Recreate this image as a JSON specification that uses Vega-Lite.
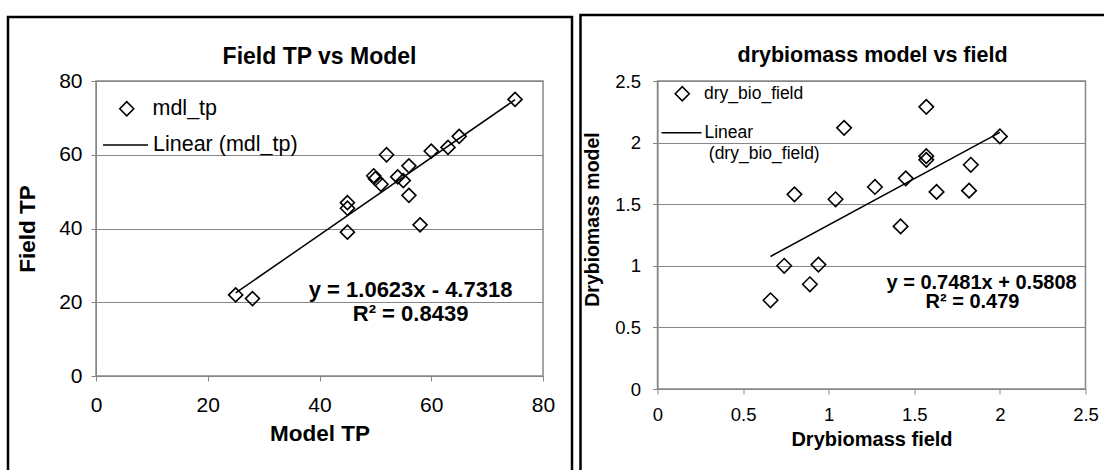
{
  "$schema": "https://vega.github.io/schema/vega-lite/v6.json",
  "padding": {"left": 5, "top": 13, "right": 0, "bottom": 0},
  "spacing": 3.5,
  "resolve": {
    "scale": {"shape": "independent", "stroke": "independent"},
    "legend": {"shape": "independent", "stroke": "independent"}
  },
  "config": {
    "font": "Liberation Sans",
    "view": {"stroke": "#868686", "strokeWidth": 1.5},
    "axis": {
      "domainColor": "#868686", "tickColor": "#868686", "gridColor": "#868686",
      "labelColor": "#000", "titleColor": "#000", "tickSize": 5, "labelFlush": false,
      "labelFont": "Liberation Sans", "titleFont": "Liberation Sans", "titleFontWeight": "bold"
    },
    "legend": {"padding": 0, "labelFont": "Liberation Sans", "labelColor": "#000", "labelLimit": 400}
  },
  "hconcat": [
    {
      "width": 447,
      "height": 295,
      "layer": [
        {
          "data": {"values": [{}]},
          "mark": {"type": "rect", "fillOpacity": 0, "stroke": "#000", "strokeWidth": 2.5},
          "encoding": {
            "x": {"datum": -15.75, "type": "quantitative", "scale": {"domain": [0, 80], "nice": false}},
            "x2": {"datum": 85.19},
            "y": {"datum": 97.36, "type": "quantitative", "scale": {"domain": [0, 80], "nice": false}},
            "y2": {"datum": -27.1}
          }
        },
        {
          "data": {"values": [{}]},
          "mark": {"type": "text", "text": "Field TP vs Model", "fontSize": 23, "fontWeight": "bold", "align": "center", "baseline": "middle"},
          "encoding": {"x": {"datum": 40, "type": "quantitative"}, "y": {"datum": 86.5, "type": "quantitative"}}
        },
        {
          "data": {"name": "tp", "values": [
            {"model": 75, "field": 75}, {"model": 65, "field": 65}, {"model": 63, "field": 62},
            {"model": 60, "field": 61}, {"model": 52, "field": 60}, {"model": 56, "field": 57},
            {"model": 49.7, "field": 54.3}, {"model": 50, "field": 53.5}, {"model": 51, "field": 52},
            {"model": 54, "field": 54}, {"model": 55, "field": 53}, {"model": 56, "field": 49},
            {"model": 45, "field": 47}, {"model": 45, "field": 45.5}, {"model": 45, "field": 39},
            {"model": 58, "field": 41}, {"model": 25, "field": 22}, {"model": 28, "field": 21}
          ]},
          "layer": [
            {
              "mark": {"type": "point", "filled": false, "stroke": "#000", "strokeWidth": 1.6, "size": 196, "opacity": 1},
              "encoding": {
                "x": {"field": "model", "type": "quantitative",
                  "axis": {"title": "Model TP", "values": [0, 20, 40, 60, 80], "grid": false,
                    "labelFontSize": 21, "labelPadding": 13, "titleFontSize": 22.5, "titlePadding": 7}},
                "y": {"field": "field", "type": "quantitative",
                  "axis": {"title": "Field TP", "values": [0, 10, 20, 30, 40, 50, 60, 70, 80], "grid": true,
                    "labelFontSize": 21, "labelPadding": 9, "titleFontSize": 22.5, "titlePadding": 19}},
                "shape": {"datum": "mdl_tp", "scale": {"range": ["diamond"]},
                  "legend": {"title": null, "orient": "none", "legendX": 20, "legendY": 17,
                    "symbolType": "diamond", "symbolSize": 196, "symbolStrokeWidth": 1.6,
                    "symbolStrokeColor": "#000", "symbolFillColor": "transparent",
                    "labelFontSize": 21.5, "labelOffset": 15}}
              }
            },
            {
              "transform": [{"regression": "field", "on": "model"}],
              "mark": {"type": "line", "strokeWidth": 1.5},
              "encoding": {
                "x": {"field": "model", "type": "quantitative"},
                "y": {"field": "field", "type": "quantitative"},
                "stroke": {"datum": "Linear (mdl_tp)", "scale": {"range": ["#000"]},
                  "legend": {"title": null, "orient": "none", "legendX": 6, "legendY": 40.5,
                    "symbolType": "stroke", "symbolSize": 2025, "symbolStrokeWidth": 1.5,
                    "labelFontSize": 21.5, "labelOffset": 4}}
              }
            }
          ]
        },
        {
          "data": {"values": [{}]},
          "mark": {"type": "text", "text": "y = 1.0623x - 4.7318", "fontSize": 22, "fontWeight": "bold", "align": "center", "baseline": "middle"},
          "encoding": {"x": {"datum": 56.3, "type": "quantitative"}, "y": {"datum": 23.24, "type": "quantitative"}}
        },
        {
          "data": {"values": [{}]},
          "mark": {"type": "text", "text": "R² = 0.8439", "fontSize": 22, "fontWeight": "bold", "align": "center", "baseline": "middle"},
          "encoding": {"x": {"datum": 56.3, "type": "quantitative"}, "y": {"datum": 16.73, "type": "quantitative"}}
        }
      ]
    },
    {
      "width": 428,
      "height": 308,
      "layer": [
        {
          "data": {"values": [{}]},
          "mark": {"type": "rect", "fillOpacity": 0, "stroke": "#000", "strokeWidth": 2.5},
          "encoding": {
            "x": {"datum": -0.4498, "type": "quantitative", "scale": {"domain": [0, 2.5], "nice": false}},
            "x2": {"datum": 2.6227},
            "y": {"datum": 3.0357, "type": "quantitative", "scale": {"domain": [0, 2.5], "nice": false}},
            "y2": {"datum": -0.706}
          }
        },
        {
          "data": {"values": [{}]},
          "mark": {"type": "text", "text": "drybiomass model vs field", "fontSize": 21.5, "fontWeight": "bold", "align": "center", "baseline": "middle"},
          "encoding": {"x": {"datum": 1.256, "type": "quantitative"}, "y": {"datum": 2.703, "type": "quantitative"}}
        },
        {
          "data": {"name": "bio", "values": [
            {"field": 1.57, "model": 2.29}, {"field": 1.09, "model": 2.12}, {"field": 2.0, "model": 2.05},
            {"field": 1.57, "model": 1.89}, {"field": 1.57, "model": 1.86}, {"field": 1.83, "model": 1.82},
            {"field": 1.45, "model": 1.71}, {"field": 1.27, "model": 1.64}, {"field": 1.63, "model": 1.6},
            {"field": 1.82, "model": 1.61}, {"field": 0.8, "model": 1.58}, {"field": 1.04, "model": 1.54},
            {"field": 1.42, "model": 1.32}, {"field": 0.74, "model": 1.0}, {"field": 0.94, "model": 1.01},
            {"field": 0.89, "model": 0.85}, {"field": 0.66, "model": 0.72}
          ]},
          "layer": [
            {
              "mark": {"type": "point", "filled": false, "stroke": "#000", "strokeWidth": 1.6, "size": 210, "opacity": 1},
              "encoding": {
                "x": {"field": "field", "type": "quantitative",
                  "axis": {"title": "Drybiomass field", "values": [0, 0.5, 1, 1.5, 2, 2.5], "format": "~g", "grid": false,
                    "labelFontSize": 18.5, "labelPadding": 11.7, "titleFontSize": 20, "titlePadding": 5}},
                "y": {"field": "model", "type": "quantitative",
                  "axis": {"title": "Drybiomass model", "values": [0, 0.5, 1, 1.5, 2, 2.5], "format": "~g", "grid": true,
                    "labelFontSize": 18.5, "labelPadding": 12, "titleFontSize": 19.5, "titlePadding": 12.5, "titleY": 138}},
                "shape": {"datum": "dry_bio_field", "scale": {"range": ["diamond"]},
                  "legend": {"title": null, "orient": "none", "legendX": 16, "legendY": 4,
                    "symbolType": "diamond", "symbolSize": 196, "symbolStrokeWidth": 1.6,
                    "symbolStrokeColor": "#000", "symbolFillColor": "transparent",
                    "labelFontSize": 17.5, "labelOffset": 13}}
              }
            },
            {
              "transform": [{"regression": "model", "on": "field"}],
              "mark": {"type": "line", "strokeWidth": 1.5},
              "encoding": {
                "x": {"field": "field", "type": "quantitative"},
                "y": {"field": "model", "type": "quantitative"},
                "stroke": {"datum": "Linear (dry_bio_field)", "scale": {"range": ["#000"]},
                  "legend": {"title": null, "orient": "none", "legendX": 3, "legendY": 30.7,
                    "symbolType": "stroke", "symbolSize": 1600, "symbolStrokeWidth": 1.5,
                    "labelFontSize": 17.5, "labelOffset": 2, "labelExpr": "'Linear'"}}
              }
            }
          ]
        },
        {
          "data": {"values": [{}]},
          "mark": {"type": "text", "text": "(dry_bio_field)", "fontSize": 17.5, "align": "left", "baseline": "middle"},
          "encoding": {"x": {"datum": 0.2997, "type": "quantitative"}, "y": {"datum": 1.905, "type": "quantitative"}}
        },
        {
          "data": {"values": [{}]},
          "mark": {"type": "text", "text": "y = 0.7481x + 0.5808", "fontSize": 20, "fontWeight": "bold", "align": "center", "baseline": "middle"},
          "encoding": {"x": {"datum": 1.893, "type": "quantitative"}, "y": {"datum": 0.858, "type": "quantitative"}}
        },
        {
          "data": {"values": [{}]},
          "mark": {"type": "text", "text": "R² = 0.479", "fontSize": 20, "fontWeight": "bold", "align": "center", "baseline": "middle"},
          "encoding": {"x": {"datum": 1.84, "type": "quantitative"}, "y": {"datum": 0.706, "type": "quantitative"}}
        }
      ]
    }
  ]
}
